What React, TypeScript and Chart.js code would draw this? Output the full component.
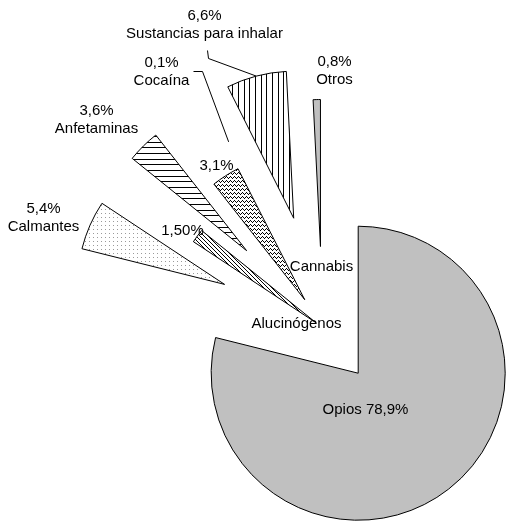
import React, { useEffect, useRef } from 'react';
import { Chart, registerables } from 'chart.js';

Chart.register(...registerables);

// ---- data ----
const categories = ['Opios', 'Calmantes', 'Alucinógenos', 'Anfetaminas', 'Cannabis', 'Cocaína', 'Sustancias para inhalar', 'Otros'];
const shares = [78.9, 5.4, 1.5, 3.6, 3.1, 0.1, 6.6, 0.8];
const shareLabels = ['78,9%', '5,4%', '1,50%', '3,6%', '3,1%', '0,1%', '6,6%', '0,8%'];

// ---- style / layout ----
// how far each slice is pulled out of the pie, in px, along its bisector
const explodePx = [58, 107, 8, 108, 33, 61, 113, 81];
const RADIUS = 147;
const FONT = '15px "Liberation Sans", Arial, sans-serif';
const LINE_H = 18;
const W = 506;
const H = 521;

type LabelSpec = {
  mode: 'inline' | 'stack' | 'split';
  at: [number, number];
  valueAt?: [number, number];
  leader?: [number, number][];
};
// positions relative to the pie centre
const labelLayout: LabelSpec[] = [
  { mode: 'inline', at: [43, 82] },
  { mode: 'stack', at: [-279, -119] },
  { mode: 'split', at: [-26, -4], valueAt: [-140, -97] },
  { mode: 'stack', at: [-226, -217] },
  { mode: 'split', at: [-1, -61], valueAt: [-106, -162] },
  { mode: 'stack', at: [-161, -265], leader: [[-130, -257], [-121, -257]] },
  { mode: 'stack', at: [-118, -312], leader: [[-116, -278], [-115, -270]] },
  { mode: 'stack', at: [12, -266] },
];

function makeTile(w: number, h: number, draw: (c: CanvasRenderingContext2D) => void) {
  const t = document.createElement('canvas');
  t.width = w;
  t.height = h;
  const c = t.getContext('2d')!;
  c.fillStyle = '#ffffff';
  c.fillRect(0, 0, w, h);
  draw(c);
  return t;
}

function buildFills(ctx: CanvasRenderingContext2D) {
  const dots = makeTile(4, 4, (c) => {
    c.fillStyle = '#9a9a9a';
    c.fillRect(1, 1, 1, 1);
  });
  const diag = makeTile(4, 4, (c) => {
    c.fillStyle = '#000';
    for (let i = 0; i < 4; i++) c.fillRect(i, i, 1, 1);
  });
  const horiz = makeTile(1, 17, (c) => {
    c.fillStyle = '#000';
    [0, 6, 11].forEach((y) => c.fillRect(0, y, 1, 1));
  });
  const zig = makeTile(4, 4, (c) => {
    c.fillStyle = '#000';
    c.fillRect(2, 0, 1, 1);
    c.fillRect(1, 1, 1, 1);
    c.fillRect(3, 1, 1, 1);
    c.fillRect(0, 2, 1, 1);
  });
  const vert = makeTile(17, 1, (c) => {
    c.fillStyle = '#000';
    [0, 6, 11].forEach((x) => c.fillRect(x, 0, 1, 1));
  });
  return [
    '#c0c0c0',
    ctx.createPattern(dots, 'repeat')!,
    ctx.createPattern(diag, 'repeat')!,
    ctx.createPattern(horiz, 'repeat')!,
    ctx.createPattern(zig, 'repeat')!,
    'rgba(0,0,0,0)',
    ctx.createPattern(vert, 'repeat')!,
    '#c0c0c0',
  ];
}

// pull each slice outward along its bisector (exploded pie)
const explodePlugin = {
  id: 'explode',
  afterDatasetUpdate(chart: any, args: any) {
    args.meta.data.forEach((el: any, i: number) => {
      const half = (el.startAngle + el.endAngle) / 2;
      const d = explodePx[i] || 0;
      el.x += Math.cos(half) * d;
      el.y += Math.sin(half) * d;
    });
  },
};

const labelPlugin = {
  id: 'sliceLabels',
  afterDatasetsDraw(chart: any) {
    const meta = chart.getDatasetMeta(0);
    const ctx: CanvasRenderingContext2D = chart.ctx;
    const area = chart.chartArea;
    const cx = (area.left + area.right) / 2;
    const cy = (area.top + area.bottom) / 2;
    ctx.save();
    ctx.font = FONT;
    ctx.fillStyle = '#000';
    ctx.strokeStyle = '#000';
    ctx.lineWidth = 1;
    ctx.textAlign = 'center';
    ctx.textBaseline = 'middle';
    meta.data.forEach((el: any, i: number) => {
      const spec = labelLayout[i];
      const name = categories[i];
      const val = shareLabels[i];
      if (spec.mode === 'inline') {
        ctx.fillText(name + ' ' + val, cx + spec.at[0], cy + spec.at[1]);
      } else if (spec.mode === 'stack') {
        ctx.fillText(val, cx + spec.at[0], cy + spec.at[1]);
        ctx.fillText(name, cx + spec.at[0], cy + spec.at[1] + LINE_H);
      } else {
        ctx.fillText(name, cx + spec.at[0], cy + spec.at[1]);
        const v = spec.valueAt!;
        ctx.fillText(val, cx + v[0], cy + v[1]);
      }
      if (spec.leader) {
        const half = (el.startAngle + el.endAngle) / 2;
        ctx.beginPath();
        spec.leader.forEach((p, j) => {
          const x = Math.round(cx + p[0]) + 0.5;
          const y = Math.round(cy + p[1]) + 0.5;
          if (j === 0) ctx.moveTo(x, y);
          else ctx.lineTo(x, y);
        });
        ctx.lineTo(el.x + Math.cos(half) * el.outerRadius, el.y + Math.sin(half) * el.outerRadius);
        ctx.stroke();
      }
    });
    ctx.restore();
  },
};

export default function App() {
  const ref = useRef<HTMLCanvasElement | null>(null);
  useEffect(() => {
    const canvas = ref.current!;
    const ctx = canvas.getContext('2d')!;
    const fills = buildFills(ctx);
    const chart = new Chart(canvas, {
      type: 'pie',
      data: {
        labels: categories,
        datasets: [
          {
            data: shares,
            backgroundColor: fills as any,
            borderColor: '#000',
            borderWidth: shares.map((_, i) => (i === 5 ? 0 : 1)),
            borderJoinStyle: 'miter',
            radius: RADIUS,
            clip: false as any,
          } as any,
        ],
      },
      options: {
        responsive: false,
        animation: false,
        events: [],
        layout: { padding: { left: 139, top: 134, right: 0, bottom: 0 } },
        plugins: {
          legend: { display: false },
          tooltip: { enabled: false },
        },
      } as any,
      plugins: [explodePlugin, labelPlugin],
    });
    return () => chart.destroy();
  }, []);
  return (
    <canvas
      ref={ref}
      width={W}
      height={H}
      style={{ display: 'block', position: 'absolute', left: 0, top: 0, width: W, height: H }}
    />
  );
}
